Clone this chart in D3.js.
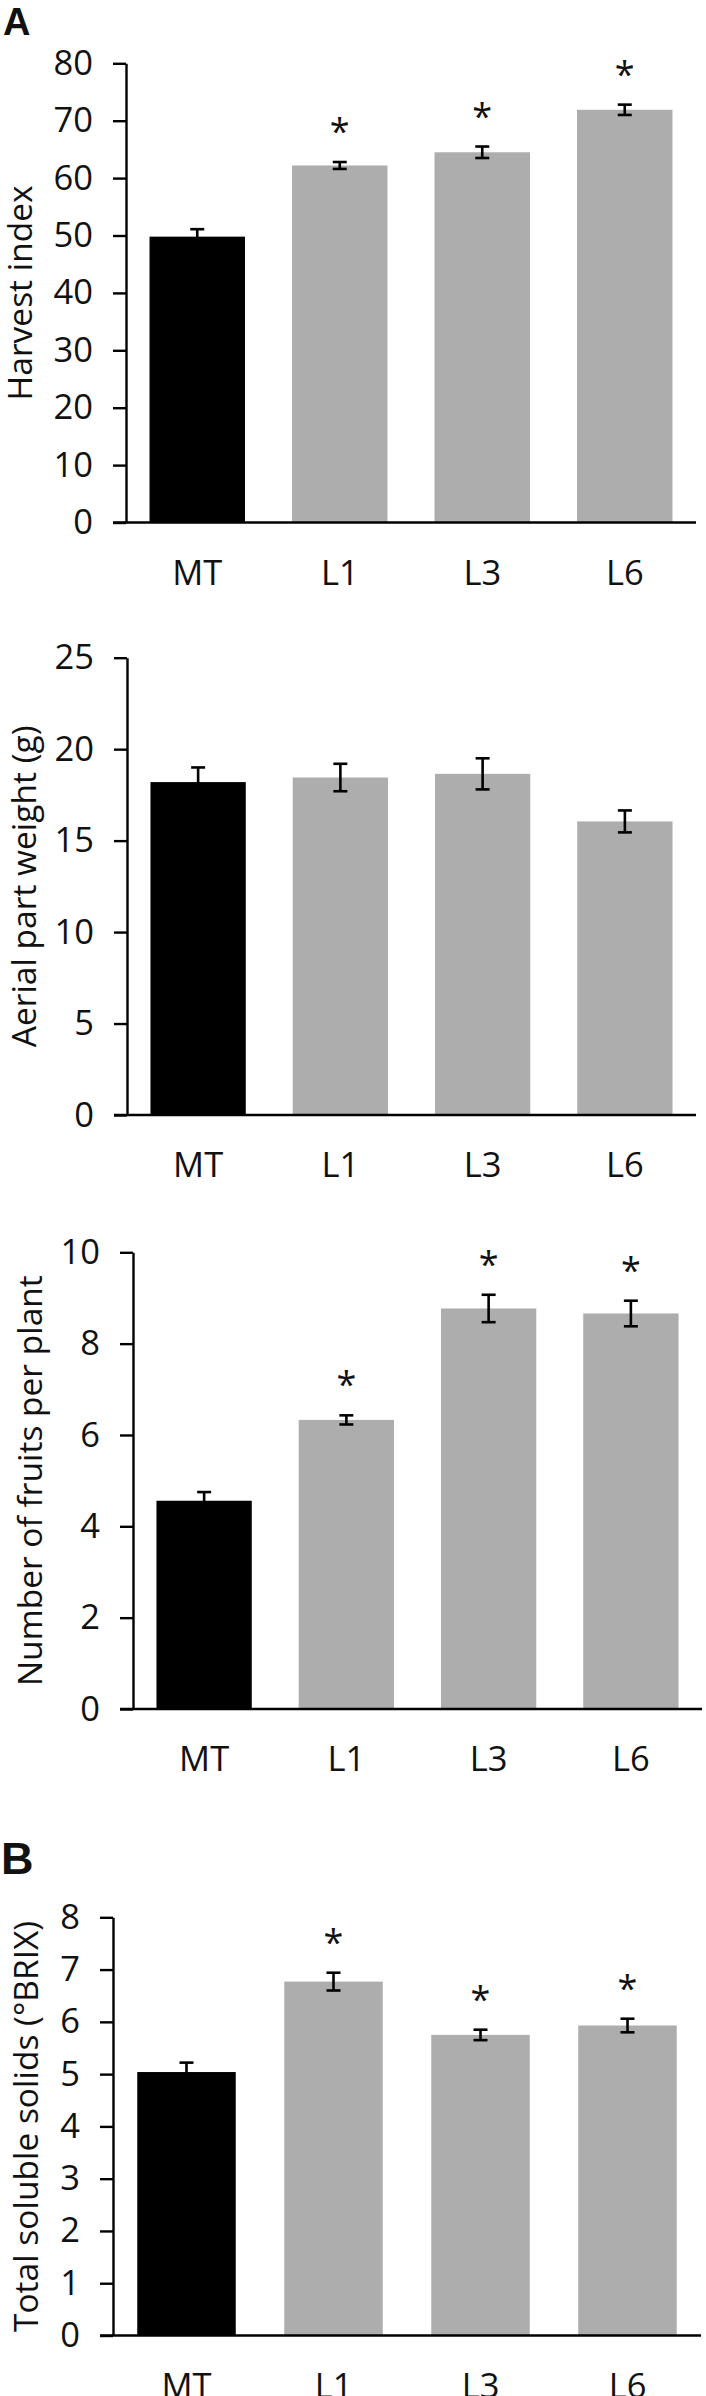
<!DOCTYPE html>
<html>
<head>
<meta charset="utf-8">
<script src="https://cdn.jsdelivr.net/npm/d3@7"></script>
<style>
  body { margin: 0; background: #fff; }
  svg text { font-family: "Open Sans", sans-serif; fill: #111; }
  .panel-letter { font-family: "Liberation Sans", Arial, sans-serif; font-weight: bold; }
</style>
</head>
<body>
<div id="chart"></div>
<script>
const categories = ["MT", "L1", "L3", "L6"];

const harvestIndex = [49.8, 62.2, 64.5, 71.9];
const harvestIndexErr = [1.3, 0.6, 1.0, 0.9];
const harvestIndexSig = [false, true, true, true];
const harvestIndexTicks = [0, 10, 20, 30, 40, 50, 60, 70, 80];

const aerialWeight = [18.2, 18.45, 18.65, 16.05];
const aerialWeightErr = [0.8, 0.75, 0.85, 0.6];
const aerialWeightSig = [false, false, false, false];
const aerialWeightTicks = [0, 5, 10, 15, 20, 25];

const fruitsPerPlant = [4.56, 6.33, 8.77, 8.66];
const fruitsPerPlantErr = [0.19, 0.1, 0.3, 0.28];
const fruitsPerPlantSig = [false, true, true, true];
const fruitsPerPlantTicks = [0, 2, 4, 6, 8, 10];

const solubleSolids = [5.04, 6.77, 5.75, 5.93];
const solubleSolidsErr = [0.18, 0.17, 0.1, 0.13];
const solubleSolidsSig = [false, true, true, true];
const solubleSolidsTicks = [0, 1, 2, 3, 4, 5, 6, 7, 8];

// layout of the four stacked panels (pixel positions in the 706 x 2396 page)
const panels = [
  {title: "Harvest index", values: harvestIndex, errors: harvestIndexErr, sig: harvestIndexSig,
    ticks: harvestIndexTicks, left: 126, right: 696, top: 63.3, bottom: 522.5, titleX: 32},
  {title: "Aerial part weight (g)", values: aerialWeight, errors: aerialWeightErr, sig: aerialWeightSig,
    ticks: aerialWeightTicks, left: 127, right: 696, top: 657.7, bottom: 1115, titleX: 36},
  {title: "Number of fruits per plant", values: fruitsPerPlant, errors: fruitsPerPlantErr, sig: fruitsPerPlantSig,
    ticks: fruitsPerPlantTicks, left: 133, right: 702, top: 1252.3, bottom: 1709, titleX: 42},
  {title: "Total soluble solids (°BRIX)", values: solubleSolids, errors: solubleSolidsErr, sig: solubleSolidsSig,
    ticks: solubleSolidsTicks, left: 113, right: 701, top: 1917.3, bottom: 2335.5, titleX: 38}
];

const width = 706;
const height = 2396;
const fontSize = 34.5;
const tickLength = 13;
const barColors = ["#000000", "#adadad", "#adadad", "#adadad"];

const svg = d3.select("#chart")
  .append("svg")
  .attr("width", width)
  .attr("height", height)
  .attr("viewBox", `0 0 ${width} ${height}`);

svg.append("text")
  .attr("class", "panel-letter")
  .attr("x", 3)
  .attr("y", 35)
  .style("font-size", "38px")
  .text("A");

svg.append("text")
  .attr("class", "panel-letter")
  .attr("x", 1)
  .attr("y", 1874)
  .style("font-size", "45px")
  .text("B");

panels.forEach(panel => drawPanel(panel));

function drawPanel(panel) {
  const maxTick = panel.ticks[panel.ticks.length - 1];
  const rows = categories.map((name, i) => ({
    name,
    value: panel.values[i],
    error: panel.errors[i],
    sig: panel.sig[i],
    color: barColors[i]
  }));

  const x = d3.scaleBand()
    .domain(categories)
    .range([panel.left, panel.right])
    .paddingInner(0.33)
    .paddingOuter(0.165);

  const y = d3.scaleLinear()
    .domain([0, maxTick])
    .range([panel.bottom, panel.top]);

  const cx = d => x(d.name) + x.bandwidth() / 2;
  const g = svg.append("g");

  g.selectAll("rect.bar")
    .data(rows)
    .enter().append("rect")
    .attr("class", "bar")
    .attr("x", d => x(d.name))
    .attr("y", d => y(d.value))
    .attr("width", x.bandwidth())
    .attr("height", d => y(0) - y(d.value))
    .attr("fill", d => d.color);

  // error bars (lower half disappears on the black bar, as in the original)
  const capHalf = 7;
  const errors = g.selectAll("g.err")
    .data(rows)
    .enter().append("g")
    .attr("class", "err")
    .attr("stroke", "#000")
    .attr("stroke-width", 2.6);

  errors.append("line")
    .attr("x1", cx)
    .attr("x2", cx)
    .attr("y1", d => y(d.value - d.error))
    .attr("y2", d => y(d.value + d.error));

  [1, -1].forEach(sign => {
    errors.append("line")
      .attr("x1", d => cx(d) - capHalf)
      .attr("x2", d => cx(d) + capHalf)
      .attr("y1", d => y(d.value + sign * d.error))
      .attr("y2", d => y(d.value + sign * d.error));
  });

  g.selectAll("text.star")
    .data(rows.filter(d => d.sig))
    .enter().append("text")
    .attr("class", "star")
    .attr("x", cx)
    .attr("y", d => y(d.value + d.error) - 38 + 20)
    .attr("text-anchor", "middle")
    .style("font-size", "36px")
    .text("*");

  const yAxis = g.append("g")
    .attr("transform", `translate(${panel.left}, 0)`)
    .call(d3.axisLeft(y)
      .tickValues(panel.ticks)
      .tickSize(tickLength)
      .tickSizeOuter(0)
      .tickPadding(20)
      .tickFormat(d3.format("d")));

  yAxis.selectAll("text")
    .style("font-size", `${fontSize}px`)
    .style("font-family", "'Open Sans', sans-serif")
    .attr("fill", "#111");
  yAxis.selectAll("line, path").attr("stroke", "#000").attr("stroke-width", 2.4);

  g.append("line")
    .attr("x1", panel.left - tickLength)
    .attr("x2", panel.right)
    .attr("y1", y(0))
    .attr("y2", y(0))
    .attr("stroke", "#000")
    .attr("stroke-width", 2.4);

  const xAxis = g.append("g")
    .attr("transform", `translate(0, ${y(0)})`)
    .call(d3.axisBottom(x).tickSize(0).tickPadding(38));

  xAxis.select(".domain").remove();
  xAxis.selectAll("text")
    .style("font-size", `${fontSize}px`)
    .style("font-family", "'Open Sans', sans-serif")
    .attr("fill", "#111");

  g.append("text")
    .attr("transform", `translate(${panel.titleX}, ${(panel.top + panel.bottom) / 2}) rotate(-90)`)
    .attr("text-anchor", "middle")
    .style("font-size", `${fontSize - 1}px`)
    .text(panel.title);
}
</script>
</body>
</html>
